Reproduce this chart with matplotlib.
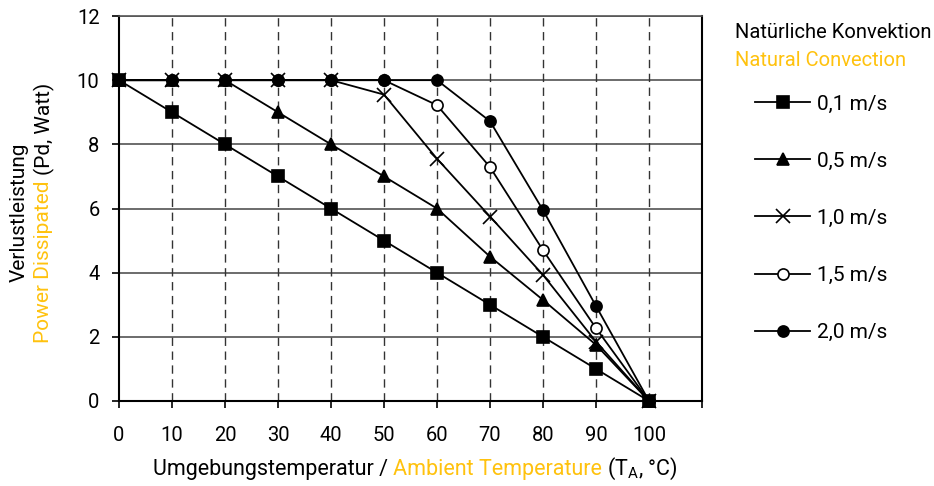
import matplotlib
matplotlib.use('Agg')
import matplotlib.pyplot as plt

plt.rcParams['font.family'] = ['Roboto', 'DejaVu Sans']
plt.rcParams['mathtext.fontset'] = 'custom'
plt.rcParams['mathtext.rm'] = 'Roboto'
plt.rcParams['mathtext.it'] = 'Roboto'

YELLOW = '#FFC20E'

temps = [0, 10, 20, 30, 40, 50, 60, 70, 80, 90, 100]
v01 = [10, 9, 8, 7, 6, 5, 4, 3, 2, 1, 0]
v05 = [10, 10, 10, 9, 8, 7, 6, 4.5, 3.15, 1.75, 0]
v10 = [10, 10, 10, 10, 10, 9.55, 7.55, 5.75, 3.93, 1.85, 0]
v15 = [10, 10, 10, 10, 10, 10, 9.22, 7.29, 4.70, 2.27, 0]
v20 = [10, 10, 10, 10, 10, 10, 10, 8.72, 5.95, 2.96, 0]
series = [
    ('0,1 m/s', v01, 's', 'black'),
    ('0,5 m/s', v05, '^', 'black'),
    ('1,0 m/s', v10, 'x', 'black'),
    ('1,5 m/s', v15, 'o', 'white'),
    ('2,0 m/s', v20, 'o', 'black'),
]
xticks = [0, 10, 20, 30, 40, 50, 60, 70, 80, 90, 100, 110]
xticklabels = ['0', '10', '20', '30', '40', '50', '60', '70', '80', '90', '100', '']
yticks = [0, 2, 4, 6, 8, 10, 12]

W, H = 934, 486
fig = plt.figure(figsize=(W / 100, H / 100), dpi=100)
ax = fig.add_axes([119 / W, 1 - 401 / H, (702 - 119) / W, (401 - 16) / H])
ax.set_xlim(0, 110)
ax.set_ylim(0, 12)

for y in yticks[1:]:
    ax.axhline(y, color='#444444', lw=1.1, zorder=1)
for x in xticks[1:-1]:
    ax.axvline(x, color='#333333', lw=1.0, ls=(0, (6, 4)), zorder=1)

sizes = {'s': 9, '^': 9, 'x': 9.5, 'o': 8}
for label, vals, m, fc in series:
    ax.plot(temps, vals, color='black', lw=1.3, marker=m, ms=sizes[m],
            markerfacecolor=fc, markeredgecolor='black',
            markeredgewidth=1.2, label=label, zorder=3, clip_on=False)

ax.set_xticks(xticks)
ax.set_xticklabels(xticklabels)
ax.set_yticks(yticks)
ax.tick_params(axis='both', direction='out', length=5, width=1.2,
               labelsize=14.5, color='black')
ax.tick_params(axis='x', pad=13)
ax.tick_params(axis='y', pad=9)
for s in ['left', 'bottom', 'right']:
    ax.spines[s].set_linewidth(1.5)
    ax.spines[s].set_color('black')
ax.spines['top'].set_color('#555555')
ax.spines['top'].set_linewidth(1.2)

leg = ax.legend(loc='upper left', bbox_to_anchor=(755 / W, 1 - 94.5 / H),
                bbox_transform=fig.transFigure, frameon=False, fontsize=15,
                borderpad=0, borderaxespad=0, labelspacing=1.83,
                handlelength=2.64, handletextpad=0.34)

fig.text(735 / W, 1 - 33 / H, 'Natürliche Konvektion', fontsize=14.5,
         color='black', ha='left', va='center')
fig.text(735 / W, 1 - 60 / H, 'Natural Convection', fontsize=14.5,
         color=YELLOW, ha='left', va='center')

fig.canvas.draw()
r = fig.canvas.get_renderer()


def hseq(x, y, parts, size=15.5):
    cx = x
    for s, c in parts:
        t = fig.text(cx / W, 1 - y / H, s, color=c, ha='left', va='center',
                     fontsize=size)
        cx += t.get_window_extent(r).width


def vseq(x, y, parts, size=15):
    cy = y
    for s, c in parts:
        t = fig.text(x / W, 1 - cy / H, s, color=c, ha='center', va='bottom',
                     rotation=90, fontsize=size)
        cy -= t.get_window_extent(r).height


hseq(153, 469, [('Umgebungstemperatur / ', 'black'),
                ('Ambient Temperature', YELLOW),
                (' (T$_{A}$, °C)', 'black')])
vseq(19, 282, [('Verlustleistung', 'black')])
vseq(44, 343, [('Power Dissipated ', YELLOW), ('(Pd, Watt)', 'black')])

fig.savefig('out.png', dpi=100)
